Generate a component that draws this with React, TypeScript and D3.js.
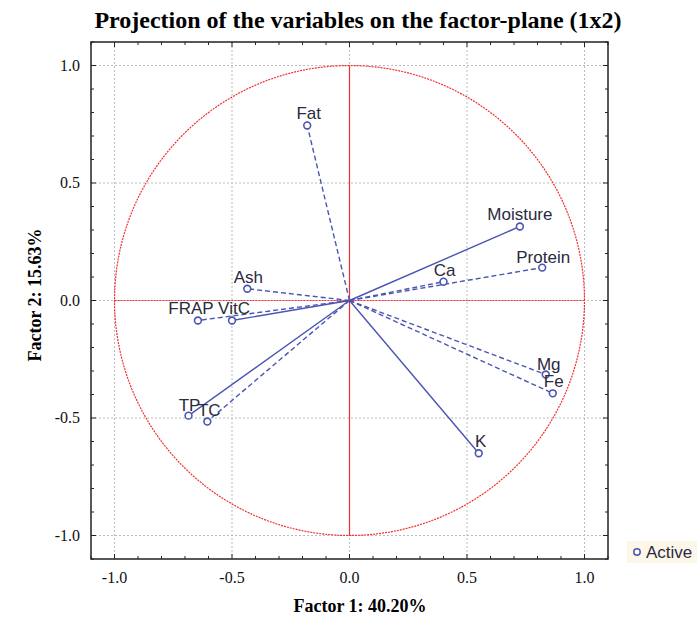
import React from 'react';
import * as d3 from 'd3';

// variable loadings on factor 1 / factor 2
const variables = ['Fat', 'Moisture', 'Protein', 'Ca', 'Ash', 'FRAP', 'VitC', 'TP', 'TC', 'Mg', 'Fe', 'K'];
const factor1 = [-0.18, 0.725, 0.82, 0.40, -0.435, -0.645, -0.50, -0.685, -0.605, 0.835, 0.865, 0.55];
const factor2 = [0.745, 0.315, 0.14, 0.08, 0.05, -0.085, -0.085, -0.49, -0.515, -0.315, -0.395, -0.65];
const dashed = [true, false, true, true, true, true, false, false, true, true, true, false];
const tickValues = [-1.0, -0.5, 0.0, 0.5, 1.0];

// label nudges (px) relative to the point
const labelDx = [1.5, 0, 1, 1, 1, -7, 2, 1, 2, 3, 1, 2];
const labelDy = [-6, -6, -5, -6, -6, -6, -6, -5, -6, -5, -6, -6];

const App = () => {
  const W = 697;
  const H = 617;
  const left = 91, right = 608, top = 42, bottom = 559;

  const x = d3.scaleLinear().domain([-1.1, 1.1]).range([left, right]);
  const y = d3.scaleLinear().domain([-1.1, 1.1]).range([bottom, top]);

  const minor = d3.range(-11, 12).map((i) => i / 10);
  const blue = '#4a55b2';
  const circle = d3.range(0, 361, 2).map((a) => [Math.cos((a * Math.PI) / 180), Math.sin((a * Math.PI) / 180)]);
  const circlePath = d3.line().x((d) => x(d[0])).y((d) => y(d[1]))(circle as [number, number][]);

  return (
    <svg width={W} height={H} style={{ position: 'absolute', left: 0, top: 0, background: '#fff' }}>
      <text x={358} y={28} textAnchor="middle" fontFamily="Liberation Serif" fontWeight="bold" fontSize={24}>
        Projection of the variables on the factor-plane (1x2)
      </text>

      {/* grid */}
      {tickValues.map((t) => (
        <g key={'g' + t}>
          <line x1={x(t)} x2={x(t)} y1={top} y2={bottom} stroke="#bbb" strokeWidth={1} strokeDasharray="2,2" />
          <line x1={left} x2={right} y1={y(t)} y2={y(t)} stroke="#bbb" strokeWidth={1} strokeDasharray="2,2" />
        </g>
      ))}

      {/* unit circle and origin lines */}
      <path d={circlePath || ''} fill="none" stroke="#f03030" strokeWidth={1.2} strokeDasharray="2,1" />
      <line x1={x(0)} x2={x(0)} y1={y(1)} y2={y(-1)} stroke="#f03030" strokeWidth={1.2} />
      <line x1={x(-1)} x2={x(1)} y1={y(0)} y2={y(0)} stroke="#f03030" strokeWidth={1.2} strokeDasharray="2,1" />

      {/* vectors */}
      {variables.map((v, i) => (
        <line
          key={'l' + v}
          x1={x(0)}
          y1={y(0)}
          x2={x(factor1[i])}
          y2={y(factor2[i])}
          stroke={blue}
          strokeWidth={1.4}
          strokeDasharray={dashed[i] ? '5,3' : undefined}
        />
      ))}
      {variables.map((v, i) => (
        <circle key={'c' + v} cx={x(factor1[i])} cy={y(factor2[i])} r={3.4} fill="#fff" stroke={blue} strokeWidth={1.6} />
      ))}
      {variables.map((v, i) => (
        <text
          key={'t' + v}
          x={x(factor1[i]) + labelDx[i]}
          y={y(factor2[i]) + labelDy[i]}
          textAnchor="middle"
          fontFamily="Liberation Sans"
          fontSize={17}
          fill="#2a2a40"
        >
          {v}
        </text>
      ))}

      {/* frame */}
      <rect x={left} y={top} width={right - left} height={bottom - top} fill="none" stroke="#222" strokeWidth={1.5} />

      {/* ticks */}
      {minor.map((t) => {
        const major = tickValues.some((m) => Math.abs(m - t) < 1e-9);
        const len = major ? 5 : 3;
        return (
          <g key={'k' + t} stroke="#222" strokeWidth={1}>
            <line x1={x(t)} x2={x(t)} y1={bottom} y2={bottom - len} />
            <line x1={x(t)} x2={x(t)} y1={top} y2={top + len} />
            <line x1={left} x2={left + len} y1={y(t)} y2={y(t)} />
            <line x1={right} x2={right - len} y1={y(t)} y2={y(t)} />
          </g>
        );
      })}

      {tickValues.map((t) => (
        <g key={'lab' + t} fontFamily="Liberation Serif" fontSize={16} fill="#111">
          <text x={x(t)} y={bottom + 24} textAnchor="middle">
            {t.toFixed(1)}
          </text>
          <text x={left - 11} y={y(t) + 5} textAnchor="end">
            {t.toFixed(1)}
          </text>
        </g>
      ))}

      <text x={360} y={612} textAnchor="middle" fontFamily="Liberation Serif" fontWeight="bold" fontSize={18}>
        Factor 1: 40.20%
      </text>
      <text
        transform={`translate(41,${295}) rotate(-90)`}
        textAnchor="middle"
        fontFamily="Liberation Serif"
        fontWeight="bold"
        fontSize={18}
      >
        Factor 2: 15.63%
      </text>

      {/* legend */}
      <rect x={627} y={541} width={70} height={22} fill="#fdf7ea" />
      <circle cx={637} cy={552} r={3.2} fill="#fff" stroke={blue} strokeWidth={1.5} />
      <text x={646} y={558} fontFamily="Liberation Sans" fontSize={17} fill="#2a2a40">
        Active
      </text>
    </svg>
  );
};

export default App;
